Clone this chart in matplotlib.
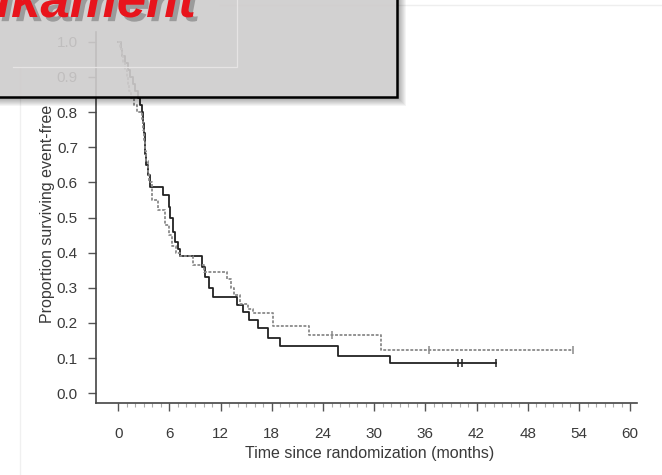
import numpy as np
import matplotlib
matplotlib.use("Agg")
import matplotlib.pyplot as plt
from matplotlib.patches import Rectangle
from matplotlib.lines import Line2D
import matplotlib.patheffects as pe

plt.rcParams['font.family'] = ['Liberation Sans', 'DejaVu Sans']

# Kaplan-Meier estimates (event-free survival), months
solid_times = [0, 0.3, 0.5, 0.8, 1.1, 1.4, 1.7, 2.0, 2.3, 2.6, 2.8, 2.9, 3.0, 3.1,
               3.2, 3.3, 3.5, 3.7, 5.3, 5.9, 6.1, 6.4, 6.7, 7.0, 7.3, 9.8, 10.2,
               10.6, 11.1, 13.9, 14.6, 15.3, 16.4, 17.6, 19.0, 25.8, 31.9]
solid_surv = [1.0, 0.98, 0.96, 0.94, 0.92, 0.90, 0.88, 0.86, 0.84, 0.82, 0.80, 0.77,
              0.74, 0.71, 0.68, 0.65, 0.62, 0.588, 0.564, 0.53, 0.50, 0.46, 0.43,
              0.41, 0.39, 0.36, 0.33, 0.30, 0.274, 0.25, 0.23, 0.208, 0.185, 0.156,
              0.134, 0.105, 0.086]
solid_end = 44.3
solid_censored = [39.8, 40.3, 44.3]

dashed_times = [0, 0.2, 0.4, 0.6, 0.8, 1.0, 1.15, 1.3, 1.5, 1.8, 2.2, 2.8, 2.95,
                3.05, 3.15, 3.3, 3.45, 3.6, 4.0, 4.7, 5.5, 6.0, 6.3, 6.8, 7.2, 8.8,
                10.0, 12.8, 13.2, 13.6, 14.3, 15.2, 15.8, 18.2, 22.4, 30.8]
dashed_surv = [1.0, 0.98, 0.96, 0.94, 0.92, 0.90, 0.88, 0.86, 0.84, 0.82, 0.80, 0.78,
               0.75, 0.72, 0.69, 0.66, 0.63, 0.60, 0.55, 0.52, 0.48, 0.45, 0.42,
               0.40, 0.39, 0.365, 0.346, 0.325, 0.30, 0.28, 0.255, 0.24, 0.227,
               0.19, 0.165, 0.124]
dashed_end = 53.3
dashed_censored = [25.0, 36.4, 53.3]

x_ticks = list(range(0, 61, 6))
y_ticks = [i / 10 for i in range(11)]
x_label = "Time since randomization (months)"
y_label = "Proportion surviving event-free"
banner_text = "Medikament"

W, H = 662, 475


def fx(px):
    return px / W


def fy(py):
    return 1 - py / H


def step_value(times, surv, t):
    idx = np.searchsorted(times, t, side="right") - 1
    return surv[idx]


fig = plt.figure(figsize=(W / 100, H / 100), dpi=100)
ax = fig.add_axes([fx(96), fy(403), (637 - 96) / W, (403 - 32) / H])

ink = "#3a3a3a"

for times, surv, end, cens, color, ls, lw in [
    (solid_times, solid_surv, solid_end, solid_censored, "#222222", "-", 1.3),
    (dashed_times, dashed_surv, dashed_end, dashed_censored, "#8a8a8a", (0, (1.6, 0.9)), 1.3),
]:
    t = np.array(times + [end])
    s = np.array(surv + [surv[-1]])
    ax.step(t, s, where="post", color=color, linestyle=ls, linewidth=lw)
    cs = [step_value(np.array(times), np.array(surv), c) for c in cens]
    ax.plot(cens, cs, linestyle="none", marker="|", markersize=6,
            markeredgewidth=1.1, color=color)

ax.set_xlim(-2.6, 60.8)
ax.set_ylim(-0.028, 1.028)
ax.set_xticks(x_ticks)
ax.set_xticks(range(0, 61), minor=True)
ax.set_yticks(y_ticks)
ax.set_yticklabels([f"{v:.1f}" for v in y_ticks])

for side in ("top", "right"):
    ax.spines[side].set_visible(False)
for side in ("left", "bottom"):
    ax.spines[side].set_color("#444444")
    ax.spines[side].set_linewidth(1.2)

ax.tick_params(axis="both", which="major", direction="out", length=6, width=1,
               color="#555555", labelsize=11, labelcolor=ink)
ax.tick_params(axis="x", which="major", pad=11)
ax.tick_params(axis="y", which="major", pad=7)
ax.tick_params(axis="x", which="minor", direction="out", length=3, width=0.8,
               color="#aaaaaa")

ax.set_xlabel(x_label, fontsize=11.5, color=ink)
ax.xaxis.set_label_coords(0.505, -0.117)
ax.set_ylabel(y_label, fontsize=11.5, color=ink)
ax.yaxis.set_label_coords(-0.076, 0.51)

# faint slide guide lines
fig.add_artist(Line2D([fx(20), fx(20)], [fy(67), fy(475)], color="#f0f0f0", lw=1))
fig.add_artist(Line2D([fx(220), fx(662)], [fy(5), fy(5)], color="#eeeeee", lw=1))

# drop shadow of the banner
for k in range(1, 10):
    fig.add_artist(Rectangle((fx(-10), fy(97 + k)), (397 + k + 10) / W, (97 + k + 10) / H,
                             transform=fig.transFigure, facecolor="black",
                             edgecolor="none", alpha=0.045, zorder=4))

# banner box
fig.add_artist(Rectangle((fx(-10), fy(97)), (397 + 10) / W, (97 + 10) / H,
                         transform=fig.transFigure, facecolor="#dad8d8",
                         edgecolor="none", alpha=0.86, zorder=5))
fig.add_artist(Line2D([fx(13), fx(237), fx(237)], [fy(67), fy(67), fy(-2)],
                      color="#e6e4e4", lw=0.9, zorder=6))
fig.add_artist(Rectangle((fx(-10), fy(97)), (397 + 10) / W, (97 + 10) / H,
                         transform=fig.transFigure, facecolor="none",
                         edgecolor="black", linewidth=1.8, zorder=7))

fig.text(fx(196), fy(17), banner_text, ha="right", va="baseline", fontsize=38,
         fontweight="bold", fontstyle="italic", color="#e8141c", zorder=8,
         path_effects=[pe.withSimplePatchShadow(offset=(3, -3), shadow_rgbFace="#666666",
                                                alpha=0.5)])

fig.savefig("out.png", dpi=100)
